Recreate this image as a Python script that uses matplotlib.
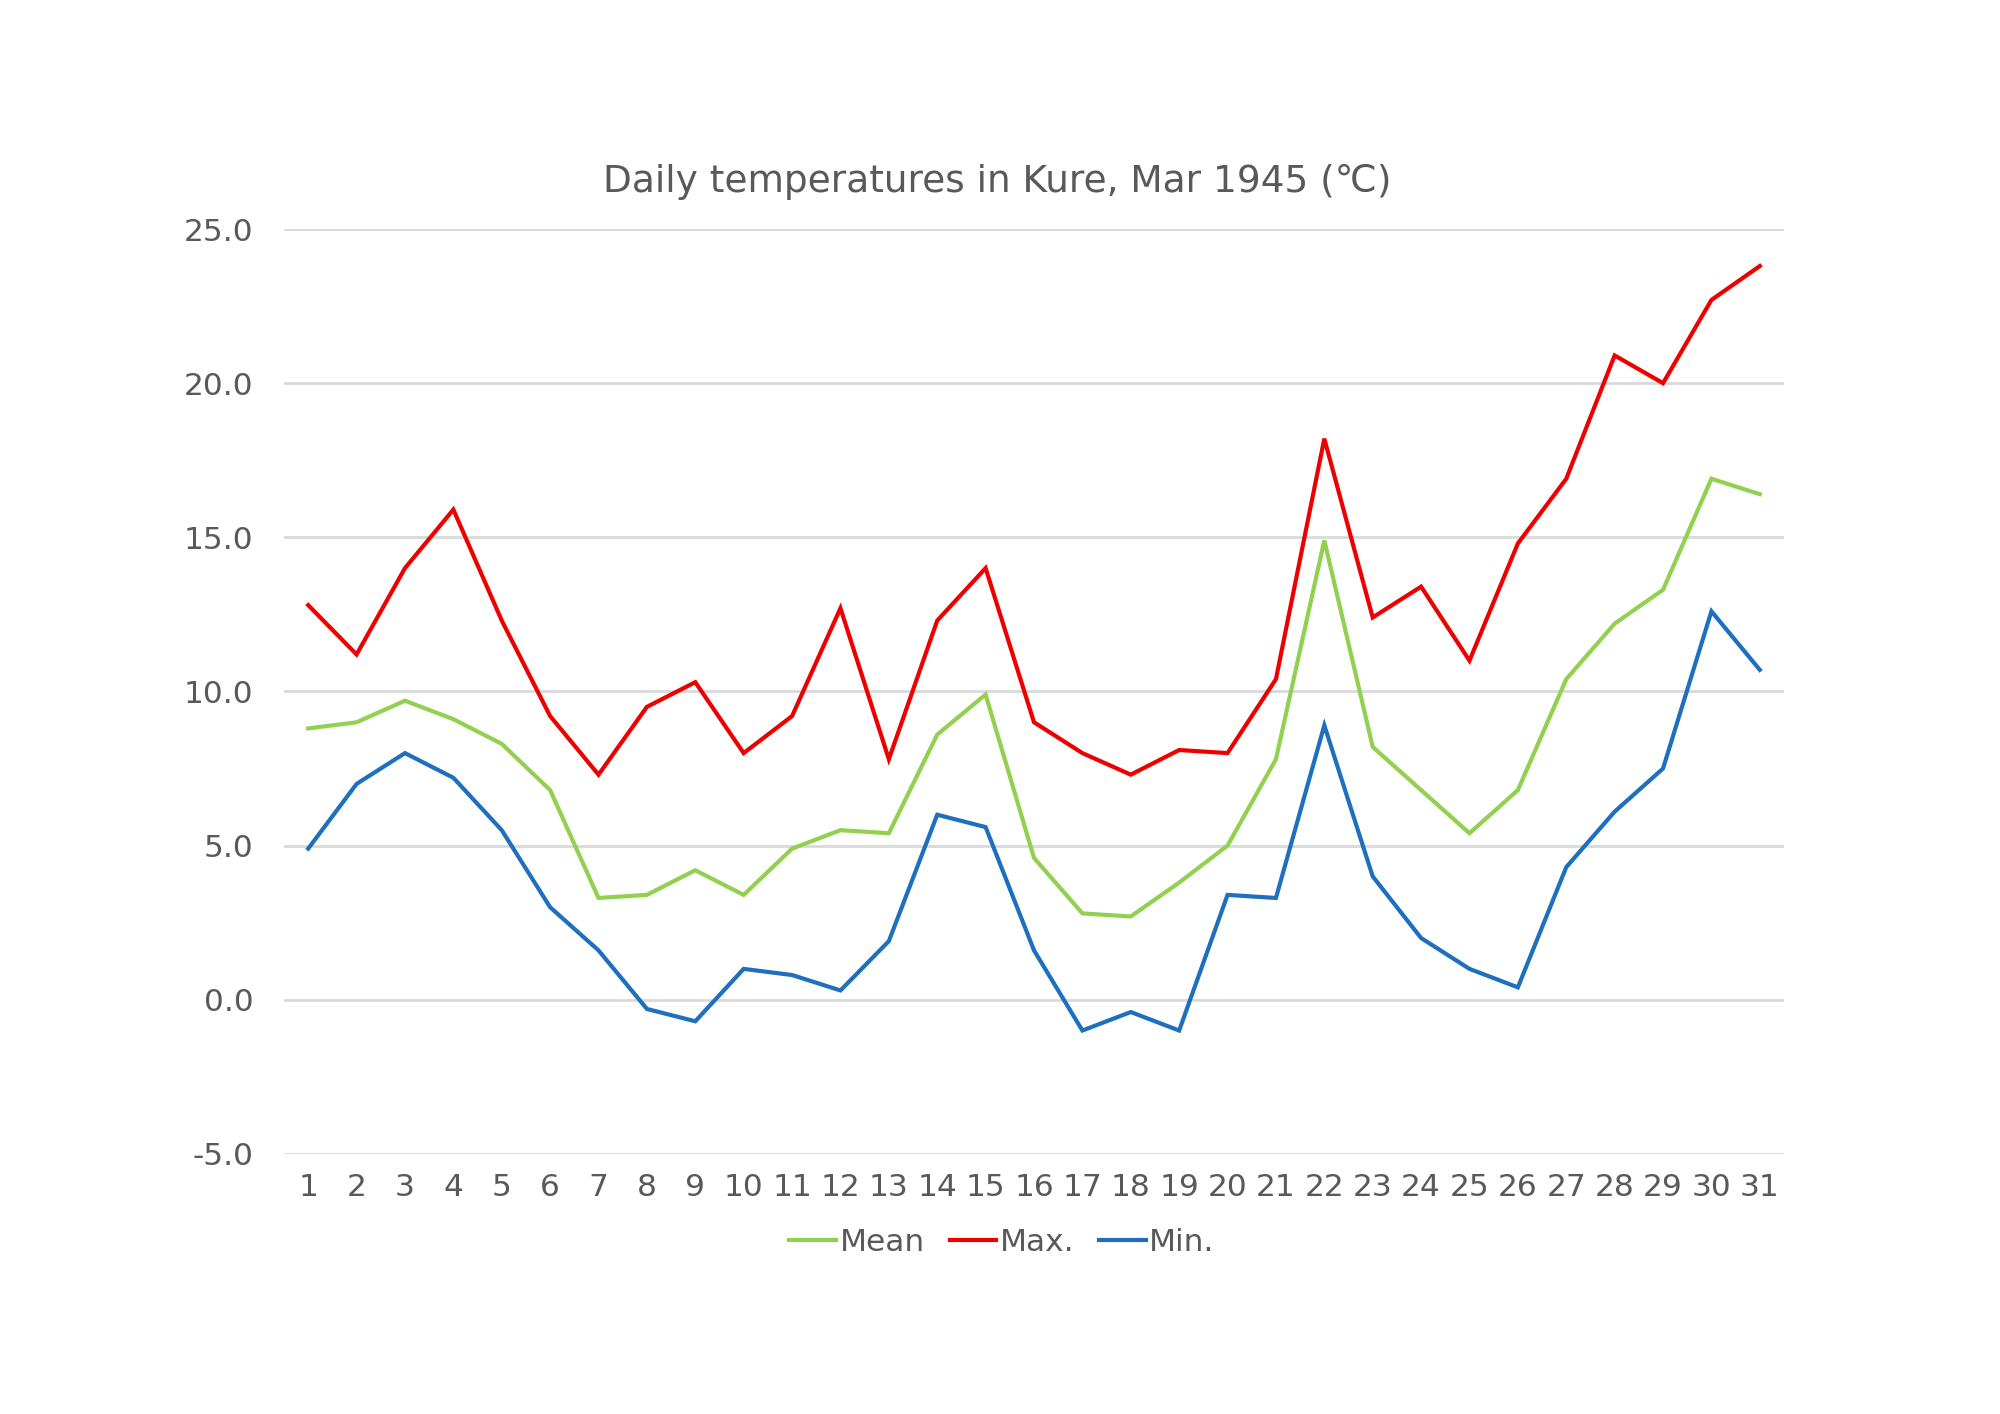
import matplotlib
matplotlib.use("Agg")
import matplotlib.pyplot as plt
import numpy as np

plt.rcParams['font.family'] = ['DejaVu Sans']

days = list(range(1, 32))
mean_t = [8.8, 9.0, 9.7, 9.1, 8.3, 6.8, 3.3, 3.4, 4.2, 3.4, 4.9, 5.5, 5.4, 8.6, 9.9, 4.6,
          2.8, 2.7, 3.8, 5.0, 7.8, 14.9, 8.2, 6.8, 5.4, 6.8, 10.4, 12.2, 13.3, 16.9, 16.4]
max_t = [12.8, 11.2, 14.0, 15.9, 12.3, 9.2, 7.3, 9.5, 10.3, 8.0, 9.2, 12.7, 7.8, 12.3, 14.0, 9.0,
         8.0, 7.3, 8.1, 8.0, 10.4, 18.2, 12.4, 13.4, 11.0, 14.8, 16.9, 20.9, 20.0, 22.7, 23.8]
min_t = [4.9, 7.0, 8.0, 7.2, 5.5, 3.0, 1.6, -0.3, -0.7, 1.0, 0.8, 0.3, 1.9, 6.0, 5.6, 1.6,
         -1.0, -0.4, -1.0, 3.4, 3.3, 8.9, 4.0, 2.0, 1.0, 0.4, 4.3, 6.1, 7.5, 12.6, 10.7]
yticks = [-5, 0, 5, 10, 15, 20, 25]

text_col = "#595959"

fig = plt.figure(figsize=(20, 14.14), dpi=100)
ax = fig.add_axes([0.142, 0.184, 0.750, 0.654])

ax.plot(days, mean_t, color="#92d050", lw=3, label="Mean", solid_joinstyle="miter")
ax.plot(days, max_t, color="#ee0000", lw=3, label="Max.", solid_joinstyle="miter")
ax.plot(days, min_t, color="#1f6fbf", lw=3, label="Min.", solid_joinstyle="miter")

ax.set_xlim(0.5, 31.5)
ax.set_ylim(-5, 25)
ax.set_yticks(yticks)
ax.set_yticklabels([f"{v:.1f}" for v in yticks])
ax.set_xticks(days)
ax.set_xticklabels([str(d) for d in days])
ax.grid(axis="y", color="#d9d9d9", lw=2)
ax.set_axisbelow(True)
for s in ax.spines.values():
    s.set_visible(False)
ax.tick_params(length=0, labelsize=22.5, colors=text_col)
ax.tick_params(axis="y", pad=22)
ax.tick_params(axis="x", pad=14)

fig.text(0.4985, 0.8715, "Daily temperatures in Kure, Mar 1945 (℃)", fontsize=27,
         color=text_col, ha="center", va="center")

fig.legend(loc="center", bbox_to_anchor=(0.501, 0.121), ncol=3, frameon=False,
           fontsize=22.5, labelcolor=text_col, handlelength=1.5, handletextpad=0.1,
           columnspacing=0.8)

fig.savefig("out.png", dpi=100, facecolor="white")
